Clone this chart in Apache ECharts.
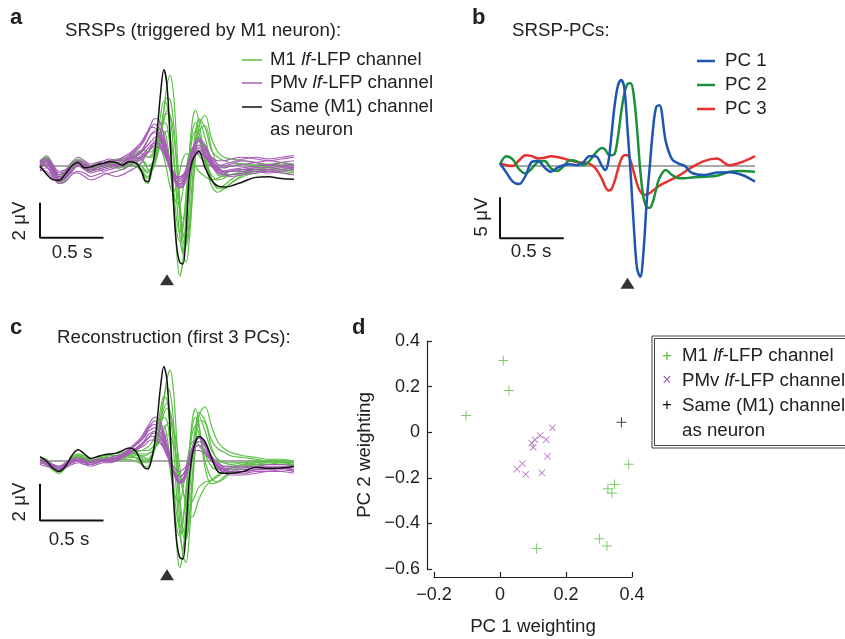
<!DOCTYPE html>
<html>
<head>
<meta charset="utf-8">
<script src="https://cdn.jsdelivr.net/npm/echarts@6/dist/echarts.min.js"></script>
<style>
  html, body { margin: 0; padding: 0; background: #fff; }
  #chart { width: 845px; height: 639px; }
</style>
</head>
<body>
<div id="chart"></div>
<script>
// time axis (s), shared by the waveform panels
var T = [-1, -0.95, -0.9, -0.85, -0.8, -0.75, -0.7, -0.65, -0.6, -0.55, -0.5, -0.45, -0.4, -0.35, -0.3, -0.25,
  -0.2, -0.175, -0.15, -0.125, -0.1, -0.075, -0.05, -0.025, 0, 0.025, 0.05, 0.075, 0.1, 0.125, 0.15, 0.175,
  0.2, 0.225, 0.25, 0.3, 0.35, 0.4, 0.45, 0.5, 0.6, 0.7, 0.8, 0.9, 1.0];

// panel a: SRSPs (uV)
var blackA = [0.0, -0.45, -0.78, -0.82, -0.45, 0.0, 0.2, -0.1, -0.05, 0.08, 0.15, 0.25, 0.2, 0.05, 0.25, 0.2, -0.3, -0.8, -0.9, -0.3, 0.6, 2.2, 4.2, 5.5, 4.6, 1.5, -2.0, -4.5, -5.5, -5.6, -3.8, -0.6, 0.3, 0.65, 0.85, -0.1, -0.8, -1.15, -1.2, -1.15, -0.9, -0.65, -0.62, -0.72, -0.76];
var greenA = [
  [0.3, 0.5, 0.0, -0.7, -0.5, 0.1, 0.35, 0.1, -0.1, 0.1, 0.2, 0.3, 0.35, 0.3, 0.4, 0.5, 0.4, 0.2, 0.0, 0.1, 0.3, 0.8, 1.8, 3.2, 4.6, 5.2, 4.2, 1.5, -1.8, -3.8, -4.3, -3.2, -0.8, 1.5, 2.7, 2.2, 0.9, 0.5, 0.3, 0.2, 0.1, 0.0, -0.1, 0.0, -0.2],
  [-0.1, 0.4, -0.3, -0.9, -0.6, 0.0, 0.25, -0.1, -0.2, 0.0, 0.1, 0.2, 0.1, 0.0, 0.2, 0.1, -0.4, -0.9, -1.0, -0.5, 0.4, 1.6, 2.9, 3.7, 3.5, 1.8, -1.5, -4.8, -6.3, -5.4, -2.6, 0.6, 2.6, 3.2, 2.6, 0.4, -0.8, -1.2, -1.1, -0.8, -0.4, -0.3, -0.2, -0.3, -0.4],
  [0.2, 0.6, 0.1, -0.8, -0.7, -0.1, 0.3, 0.0, -0.2, 0.0, 0.1, 0.1, 0.2, 0.1, 0.1, 0.3, 0.3, 0.1, -0.2, -0.3, 0.0, 0.6, 1.6, 2.6, 3.2, 2.8, 1.0, -1.8, -4.0, -5.0, -4.4, -2.2, 0.3, 2.0, 2.6, 1.6, 0.2, -0.5, -0.6, -0.5, -0.3, -0.1, 0.0, 0.1, 0.0],
  [-0.2, 0.2, -0.4, -1.0, -0.8, -0.2, 0.2, -0.1, -0.3, -0.1, 0.0, 0.0, -0.1, -0.2, 0.0, 0.0, -0.2, -0.5, -0.6, -0.2, 0.4, 1.2, 2.0, 2.5, 2.3, 1.0, -1.2, -3.0, -3.8, -3.3, -1.8, 0.2, 1.6, 2.0, 1.6, 0.3, -0.5, -0.8, -0.7, -0.5, -0.4, -0.2, -0.3, -0.2, -0.3],
  [0.0, 0.5, -0.1, -0.6, -0.4, 0.0, 0.3, 0.1, -0.1, 0.1, 0.2, 0.1, 0.0, 0.1, 0.3, 0.2, 0.0, -0.3, -0.4, -0.2, 0.2, 0.7, 1.3, 1.8, 2.0, 1.6, 0.5, -1.2, -2.5, -3.0, -2.6, -1.4, 0.0, 1.0, 1.5, 0.6, -0.7, -1.3, -1.3, -1.0, -0.6, -0.4, -0.3, -0.4, -0.5],
  [0.1, 0.3, -0.2, -0.7, -0.6, -0.1, 0.2, 0.0, -0.1, 0.0, 0.0, 0.2, 0.1, 0.0, 0.2, 0.4, 0.5, 0.6, 0.5, 0.6, 0.9, 1.3, 1.5, 1.4, 0.8, -0.3, -1.5, -2.1, -2.2, -1.4, -0.2, 0.7, 1.0, 0.9, 0.6, 0.2, 0.0, -0.1, -0.1, 0.0, 0.1, 0.1, 0.0, 0.2, 0.1],
  [0.3, 0.4, 0.0, -0.5, -0.3, 0.1, 0.4, 0.2, 0.0, 0.2, 0.2, 0.3, 0.4, 0.4, 0.5, 0.6, 0.7, 0.6, 0.5, 0.5, 0.7, 1.2, 2.0, 2.7, 3.0, 2.9, 2.0, 0.2, -2.3, -4.2, -4.6, -3.6, -1.5, 0.8, 2.3, 2.9, 1.6, 0.8, 0.5, 0.4, 0.3, 0.2, 0.1, 0.2, 0.0],
  [-0.1, 0.1, -0.3, -0.8, -0.5, 0.0, 0.1, -0.2, -0.3, -0.2, -0.1, 0.0, 0.2, 0.3, 0.5, 0.7, 0.9, 0.9, 0.8, 0.8, 1.0, 1.1, 1.0, 0.5, -0.3, -1.2, -1.5, -1.1, -0.3, 0.4, 0.7, 0.6, 0.3, 0.0, -0.3, -0.6, -0.8, -0.7, -0.5, -0.3, -0.2, -0.1, -0.2, -0.1, -0.2],
  [0.2, 0.4, -0.2, -0.9, -0.7, -0.2, 0.2, 0.0, -0.2, -0.1, 0.1, 0.2, 0.2, 0.1, 0.2, 0.2, 0.0, -0.2, -0.3, -0.1, 0.3, 1.0, 2.0, 3.2, 3.9, 3.8, 2.6, 0.2, -2.8, -4.9, -5.5, -4.3, -1.8, 0.6, 2.0, 2.3, 1.0, 0.0, -0.4, -0.5, -0.4, -0.2, -0.1, -0.2, -0.3],
  [0.0, 0.3, -0.2, -0.8, -0.6, 0.0, 0.3, 0.0, -0.2, 0.0, 0.1, 0.1, 0.0, -0.1, 0.1, 0.0, -0.3, -0.6, -0.7, -0.3, 0.4, 1.3, 1.9, 2.0, 1.4, 0.0, -2.0, -3.7, -4.3, -3.6, -1.6, 0.6, 2.0, 2.5, 2.0, 0.2, -1.1, -1.5, -1.3, -1.0, -0.5, -0.3, -0.2, -0.3, -0.2]
];
var purpleA = [
  [0.2, 0.3, -0.2, -0.5, -0.4, 0.0, 0.3, 0.1, -0.1, 0.1, 0.2, 0.3, 0.3, 0.4, 0.6, 0.9, 1.3, 1.6, 2.0, 2.4, 2.7, 2.7, 2.4, 1.8, 1.0, 0.2, -0.5, -1.0, -1.2, -1.1, -0.6, 0.2, 0.9, 1.4, 1.6, 1.2, 0.5, 0.1, 0.0, 0.1, 0.3, 0.2, 0.0, 0.2, 0.3],
  [0.0, 0.1, -0.4, -0.8, -0.7, -0.3, 0.0, -0.2, -0.4, -0.3, -0.2, -0.1, 0.0, 0.2, 0.4, 0.6, 0.9, 1.2, 1.5, 1.8, 2.0, 2.0, 1.8, 1.3, 0.7, 0.0, -0.5, -0.9, -1.0, -0.9, -0.4, 0.2, 0.8, 1.1, 1.2, 0.8, 0.2, -0.2, -0.3, -0.3, -0.2, -0.2, -0.3, -0.2, -0.1],
  [-0.3, -0.1, -0.6, -1.0, -0.9, -0.5, -0.3, -0.4, -0.6, -0.5, -0.4, -0.5, -0.6, -0.5, -0.3, -0.1, 0.2, 0.5, 0.8, 1.1, 1.4, 1.5, 1.4, 1.0, 0.4, -0.2, -0.7, -1.1, -1.25, -1.2, -0.8, -0.2, 0.4, 0.8, 0.9, 0.6, 0.0, -0.4, -0.5, -0.5, -0.4, -0.3, -0.4, -0.3, -0.2],
  [0.3, 0.5, 0.1, -0.3, -0.2, 0.2, 0.5, 0.3, 0.1, 0.2, 0.3, 0.4, 0.3, 0.3, 0.4, 0.6, 0.8, 1.0, 1.2, 1.4, 1.6, 1.7, 1.6, 1.2, 0.7, 0.1, -0.3, -0.6, -0.7, -0.6, -0.3, 0.2, 0.7, 1.0, 1.1, 0.9, 0.5, 0.3, 0.3, 0.4, 0.5, 0.4, 0.3, 0.4, 0.5],
  [-0.1, 0.2, -0.3, -0.7, -0.5, -0.2, 0.1, -0.1, -0.3, -0.2, -0.1, 0.0, 0.1, 0.2, 0.5, 0.8, 1.2, 1.5, 1.9, 2.2, 2.4, 2.3, 2.0, 1.5, 0.8, 0.1, -0.5, -0.9, -1.1, -1.0, -0.6, 0.0, 0.7, 1.2, 1.4, 1.1, 0.4, -0.1, -0.3, -0.2, -0.1, 0.0, 0.1, 0.0, -0.1],
  [0.1, 0.0, -0.5, -0.8, -0.6, -0.2, 0.1, 0.0, -0.2, -0.1, 0.0, 0.1, 0.1, 0.1, 0.2, 0.3, 0.5, 0.7, 0.8, 1.0, 1.1, 1.1, 1.0, 0.7, 0.3, -0.1, -0.4, -0.6, -0.6, -0.5, -0.2, 0.2, 0.5, 0.7, 0.7, 0.5, 0.1, -0.2, -0.3, -0.3, -0.2, -0.1, -0.1, 0.0, 0.1],
  [0.2, 0.4, 0.0, -0.4, -0.3, 0.0, 0.3, 0.2, 0.0, 0.0, 0.1, 0.2, 0.3, 0.5, 0.7, 1.0, 1.4, 1.7, 2.0, 2.2, 2.2, 2.0, 1.6, 1.0, 0.4, -0.2, -0.6, -0.9, -0.9, -0.7, -0.2, 0.4, 1.0, 1.4, 1.5, 1.0, 0.3, 0.0, 0.1, 0.2, 0.4, 0.5, 0.4, 0.5, 0.6],
  [-0.2, -0.3, -0.7, -0.9, -0.7, -0.4, -0.4, -0.6, -0.8, -0.7, -0.5, -0.4, -0.3, -0.2, 0.0, 0.2, 0.4, 0.6, 0.8, 1.0, 1.2, 1.3, 1.2, 0.9, 0.5, 0.0, -0.4, -0.7, -0.8, -0.8, -0.5, 0.0, 0.5, 0.9, 1.0, 0.7, 0.1, -0.3, -0.5, -0.6, -0.5, -0.4, -0.3, -0.4, -0.5],
  [0.0, 0.3, -0.1, -0.5, -0.4, 0.0, 0.2, 0.0, -0.1, 0.1, 0.2, 0.1, 0.0, 0.1, 0.3, 0.5, 0.8, 1.1, 1.5, 1.8, 1.9, 1.8, 1.5, 1.0, 0.4, -0.2, -0.7, -1.0, -1.1, -0.9, -0.4, 0.3, 0.9, 1.3, 1.4, 1.0, 0.3, -0.1, -0.1, 0.0, 0.1, 0.2, 0.3, 0.2, 0.0],
  [0.1, 0.2, -0.2, -0.6, -0.6, -0.3, 0.0, -0.1, -0.2, -0.2, -0.3, -0.2, -0.1, 0.0, 0.2, 0.4, 0.6, 0.8, 1.0, 1.2, 1.3, 1.3, 1.1, 0.8, 0.3, -0.2, -0.5, -0.7, -0.7, -0.6, -0.3, 0.1, 0.5, 0.8, 0.8, 0.5, 0.0, -0.3, -0.4, -0.3, -0.3, -0.2, -0.2, -0.1, -0.1]
];

// panel b: SRSP principal components (uV)
var pc1 = [0.3, -0.8, -1.9, -2.2, -1.2, 0.5, 0.6, -0.2, -0.7, -0.2, 0.1, 0.2, 0.1, 0.4, 1.2, 1.2, 0.0, -0.5, 0.5, 3.9, 7.5, 9.8, 10.5, 9.5, 4.5, -1.0, -7.5, -12.5, -13.5, -10.5, -4.5, 0.0, 4.5, 7.2, 7.4, 3.0, 0.8, 0.3, 0.0, -0.8, -1.1, -0.8, -0.75, -1.1, -1.9];
var pc2 = [0.2, 1.2, 0.8, -0.4, -0.9, -0.3, 0.5, 0.6, -0.3, -0.6, 0.0, 0.7, 0.6, 0.1, 0.6, 1.6, 2.2, 2.0, 1.4, 1.3, 1.5, 3.5, 6.5, 8.8, 10.0, 10.1, 8.5, 4.5, -0.5, -3.8, -5.0, -5.1, -4.3, -2.8, -1.5, -0.5, -1.1, -1.5, -1.5, -1.4, -1.3, -1.2, -0.7, -0.6, -0.7];
var pc3 = [0.3, 0.1, 0.0, 0.7, 1.3, 1.2, 0.9, 1.0, 1.2, 1.1, 0.9, 0.7, 0.5, 0.4, 0.3, -0.3, -1.6, -2.5, -3.0, -2.8, -1.8, -0.4, 0.8, 1.3, 1.3, 0.6, -0.8, -2.2, -3.1, -3.5, -3.5, -3.3, -3.0, -2.7, -2.4, -2.0, -1.6, -1.2, -0.7, -0.2, 0.6, 0.9, 0.1, 0.5, 1.2];

// panel c: reconstruction from first 3 PCs (uV)
var blackC = [0.25, 0.0, -0.4, -0.6, -0.3, 0.3, 0.65, 0.4, 0.15, 0.25, 0.35, 0.4, 0.45, 0.6, 0.75, 0.6, -0.1, -0.4, -0.45, 0.0, 0.9, 2.5, 4.3, 5.4, 4.6, 1.6, -2.0, -4.5, -5.5, -5.6, -3.9, -1.0, 0.4, 1.1, 1.4, 1.1, 0.2, -0.6, -0.7, -0.7, -0.6, -0.35, -0.42, -0.4, -0.3];
var greenC = [
  [0.2, 0.1, -0.3, -0.5, -0.2, 0.2, 0.4, 0.2, 0.1, 0.2, 0.3, 0.3, 0.3, 0.4, 0.5, 0.4, 0.2, 0.1, 0.1, 0.3, 0.6, 1.2, 2.2, 3.5, 4.7, 5.2, 4.1, 1.4, -1.8, -3.8, -4.3, -3.2, -0.8, 1.5, 2.8, 2.3, 1.2, 0.7, 0.5, 0.3, 0.2, 0.1, 0.0, 0.0, -0.1],
  [0.0, -0.1, -0.5, -0.7, -0.4, 0.1, 0.3, 0.1, -0.1, 0.0, 0.1, 0.1, 0.1, 0.2, 0.3, 0.2, -0.2, -0.4, -0.4, 0.0, 0.8, 1.9, 3.0, 3.7, 3.5, 1.8, -1.5, -4.7, -6.1, -5.3, -2.7, 0.4, 2.4, 3.0, 2.2, -0.4, -1.3, -1.2, -0.9, -0.6, -0.3, -0.2, -0.1, -0.2, -0.2],
  [0.1, 0.0, -0.4, -0.6, -0.3, 0.1, 0.3, 0.1, 0.0, 0.1, 0.2, 0.2, 0.2, 0.3, 0.4, 0.4, 0.3, 0.2, 0.1, 0.2, 0.6, 1.3, 2.3, 3.0, 3.3, 2.7, 0.9, -1.9, -4.1, -5.0, -4.3, -2.1, 0.4, 2.0, 2.6, 1.7, 0.6, 0.1, -0.1, -0.2, -0.1, 0.0, 0.0, 0.0, -0.1],
  [0.0, -0.2, -0.5, -0.6, -0.3, 0.0, 0.2, 0.0, -0.1, 0.0, 0.0, 0.1, 0.1, 0.1, 0.2, 0.2, 0.0, -0.1, -0.1, 0.2, 0.7, 1.4, 2.1, 2.5, 2.3, 1.0, -1.2, -3.0, -3.8, -3.3, -1.8, 0.2, 1.6, 2.0, 1.6, 0.4, -0.3, -0.5, -0.5, -0.4, -0.3, -0.2, -0.2, -0.2, -0.2],
  [0.1, 0.0, -0.3, -0.5, -0.3, 0.1, 0.3, 0.2, 0.0, 0.1, 0.2, 0.3, 0.3, 0.3, 0.4, 0.4, 0.4, 0.4, 0.4, 0.5, 0.7, 1.0, 1.4, 1.8, 2.1, 2.2, 1.9, 1.0, -0.3, -1.6, -2.6, -3.1, -3.2, -2.8, -2.2, -1.5, -1.1, -0.8, -0.6, -0.4, -0.2, -0.1, 0.0, 0.0, -0.1],
  [0.2, 0.1, -0.2, -0.4, -0.2, 0.2, 0.4, 0.3, 0.1, 0.2, 0.3, 0.4, 0.4, 0.5, 0.6, 0.6, 0.6, 0.6, 0.6, 0.7, 0.9, 1.4, 2.1, 2.7, 3.0, 2.8, 1.8, 0.0, -2.4, -4.2, -4.5, -3.4, -1.2, 1.0, 2.6, 3.1, 2.0, 1.1, 0.7, 0.5, 0.3, 0.2, 0.1, 0.1, 0.0],
  [0.0, -0.1, -0.4, -0.5, -0.3, 0.0, 0.2, 0.1, -0.1, 0.0, 0.1, 0.1, 0.2, 0.3, 0.4, 0.5, 0.6, 0.7, 0.8, 1.0, 1.3, 1.6, 1.6, 1.3, 0.6, -0.5, -1.6, -2.2, -2.3, -1.6, -0.4, 0.6, 1.1, 1.2, 0.9, 0.4, 0.1, 0.0, -0.1, -0.1, -0.1, 0.0, 0.0, -0.1, -0.1],
  [0.1, 0.0, -0.4, -0.6, -0.3, 0.1, 0.3, 0.1, 0.0, 0.1, 0.2, 0.2, 0.2, 0.3, 0.3, 0.2, 0.1, 0.0, 0.0, 0.2, 0.6, 1.4, 2.5, 3.6, 4.2, 3.9, 2.4, -0.4, -3.5, -5.4, -5.8, -4.3, -1.6, 0.9, 2.3, 2.2, 0.8, 0.0, -0.3, -0.3, -0.2, -0.1, -0.1, -0.1, -0.2],
  [-0.1, -0.2, -0.5, -0.6, -0.4, 0.0, 0.2, 0.0, -0.1, 0.0, 0.0, 0.0, 0.0, 0.1, 0.1, 0.0, -0.2, -0.3, -0.3, 0.0, 0.6, 1.3, 1.9, 2.0, 1.4, 0.0, -2.0, -3.7, -4.3, -3.6, -1.6, 0.6, 2.0, 2.5, 2.0, 0.0, -1.0, -1.2, -1.0, -0.7, -0.4, -0.2, -0.2, -0.2, -0.2],
  [0.0, -0.1, -0.3, -0.5, -0.3, 0.0, 0.2, 0.1, 0.0, 0.0, 0.1, 0.2, 0.2, 0.2, 0.3, 0.3, 0.3, 0.3, 0.4, 0.5, 0.7, 0.9, 1.2, 1.4, 1.5, 1.4, 1.0, 0.2, -0.8, -1.7, -2.3, -2.5, -2.3, -1.9, -1.5, -1.2, -1.1, -0.9, -0.6, -0.4, -0.2, -0.1, 0.0, -0.1, -0.1]
];
var purpleC = [
  [0.0, -0.1, -0.3, -0.4, -0.2, 0.1, 0.1, -0.1, -0.1, 0.0, 0.1, 0.1, 0.2, 0.4, 0.7, 1.0, 1.4, 1.7, 2.0, 2.3, 2.5, 2.5, 2.2, 1.7, 1.0, 0.2, -0.5, -1.0, -1.2, -1.2, -0.8, -0.1, 0.7, 1.2, 1.4, 0.9, 0.2, -0.3, -0.5, -0.6, -0.6, -0.5, -0.5, -0.4, -0.5],
  [0.1, -0.1, -0.3, -0.4, -0.2, 0.0, 0.1, 0.0, -0.1, 0.0, 0.0, 0.1, 0.2, 0.3, 0.6, 0.9, 1.2, 1.5, 1.8, 2.0, 2.1, 2.0, 1.8, 1.3, 0.7, 0.0, -0.6, -1.0, -1.2, -1.1, -0.7, 0.0, 0.7, 1.1, 1.3, 0.9, 0.2, -0.3, -0.5, -0.6, -0.6, -0.5, -0.4, -0.4, -0.5],
  [-0.1, -0.2, -0.4, -0.5, -0.3, -0.1, 0.0, -0.1, -0.2, -0.1, 0.0, 0.0, 0.1, 0.3, 0.5, 0.7, 1.0, 1.2, 1.5, 1.6, 1.7, 1.6, 1.4, 1.0, 0.5, -0.1, -0.6, -0.9, -1.1, -1.0, -0.6, 0.0, 0.6, 1.0, 1.1, 0.8, 0.1, -0.3, -0.5, -0.6, -0.6, -0.5, -0.5, -0.4, -0.6],
  [0.0, 0.0, -0.2, -0.3, -0.2, 0.0, 0.1, 0.0, -0.1, 0.0, 0.1, 0.1, 0.2, 0.3, 0.5, 0.7, 0.9, 1.1, 1.3, 1.4, 1.4, 1.3, 1.1, 0.8, 0.4, -0.1, -0.5, -0.8, -0.9, -0.8, -0.5, 0.0, 0.5, 0.8, 0.9, 0.6, 0.1, -0.2, -0.4, -0.4, -0.4, -0.3, -0.3, -0.3, -0.4],
  [0.0, -0.1, -0.3, -0.4, -0.3, -0.1, 0.0, -0.1, -0.2, -0.1, 0.0, 0.0, 0.1, 0.2, 0.4, 0.6, 0.8, 0.9, 1.1, 1.2, 1.2, 1.1, 1.0, 0.7, 0.3, 0.0, -0.3, -0.5, -0.6, -0.5, -0.3, 0.1, 0.4, 0.6, 0.6, 0.4, 0.0, -0.3, -0.4, -0.5, -0.5, -0.4, -0.4, -0.4, -0.5],
  [-0.1, -0.2, -0.4, -0.5, -0.3, 0.0, 0.0, -0.2, -0.2, -0.1, 0.0, 0.0, 0.1, 0.3, 0.6, 0.9, 1.3, 1.6, 1.9, 2.1, 2.3, 2.2, 2.0, 1.5, 0.8, 0.1, -0.6, -1.1, -1.3, -1.2, -0.8, -0.1, 0.6, 1.1, 1.3, 0.9, 0.2, -0.4, -0.7, -0.8, -0.8, -0.7, -0.6, -0.6, -0.7],
  [0.1, 0.0, -0.2, -0.3, -0.1, 0.1, 0.2, 0.1, 0.0, 0.1, 0.1, 0.2, 0.3, 0.4, 0.6, 0.9, 1.2, 1.4, 1.7, 1.8, 1.9, 1.8, 1.6, 1.1, 0.6, 0.0, -0.5, -0.8, -0.9, -0.8, -0.4, 0.2, 0.8, 1.2, 1.3, 1.0, 0.3, -0.1, -0.3, -0.3, -0.3, -0.3, -0.2, -0.2, -0.3],
  [-0.2, -0.3, -0.4, -0.5, -0.4, -0.2, -0.1, -0.2, -0.3, -0.2, -0.1, -0.1, 0.0, 0.2, 0.4, 0.6, 0.9, 1.1, 1.3, 1.5, 1.6, 1.5, 1.3, 0.9, 0.4, -0.2, -0.7, -1.0, -1.2, -1.1, -0.8, -0.2, 0.4, 0.8, 0.9, 0.6, 0.0, -0.4, -0.6, -0.7, -0.7, -0.6, -0.6, -0.5, -0.6]
];

// panel d: PC weightings
var m1X = [0.010, 0.027, -0.103, 0.390, 0.347, 0.327, 0.339, 0.111, 0.301, 0.324];
var m1Y = [0.314, 0.183, 0.073, -0.141, -0.229, -0.248, -0.267, -0.510, -0.467, -0.499];
var pmvX = [0.159, 0.122, 0.106, 0.140, 0.096, 0.101, 0.144, 0.068, 0.051, 0.078, 0.127];
var pmvY = [0.019, -0.015, -0.033, -0.033, -0.048, -0.066, -0.106, -0.138, -0.162, -0.185, -0.178];
var sameX = [0.368];
var sameY = [0.044];

var GREEN = '#5dbf47', PURPLE = '#a65cb6', FONT = '"Liberation Sans", Arial, sans-serif';
var FS = 18.7;
var PLUS = 'path://M9,0H11V9H20V11H11V20H9V11H0V9H9Z';

function zip(xs, ys) { return xs.map(function (x, i) { return [x, ys[i]]; }); }
function trace(g, ys, color, w) {
  return { type: 'line', xAxisIndex: g, yAxisIndex: g, data: zip(T, ys), smooth: 0.35, symbol: 'none',
    lineStyle: { color: color, width: w }, silent: true };
}
function plain(g, pts, color, w) {
  return { type: 'line', xAxisIndex: g, yAxisIndex: g, data: pts, symbol: 'none',
    lineStyle: { color: color, width: w }, silent: true };
}
function marker(g, pt) {
  return { type: 'scatter', xAxisIndex: g, yAxisIndex: g, data: [pt], symbol: 'triangle',
    symbolSize: [14, 11], itemStyle: { color: '#000' }, silent: true };
}

var series = [];
// panel a
series.push(plain(0, [[-1, 0], [1, 0]], '#8c8c8c', 1.5));
greenA.forEach(function (v) { series.push(trace(0, v, GREEN, 1.2)); });
purpleA.forEach(function (v) { series.push(trace(0, v, PURPLE, 1.2)); });
series.push(trace(0, blackA, '#111', 1.5));
series.push(plain(0, [[-1, -2.1], [-1, -4.1], [-0.5, -4.1]], '#111', 2));
series.push(marker(0, [0, -6.5]));
// panel b
series.push(plain(1, [[-1, 0], [1, 0]], '#8c8c8c', 1.5));
series.push(trace(1, pc3, '#e8312f', 2.5));
series.push(trace(1, pc2, '#1a8f3c', 2.5));
series.push(trace(1, pc1, '#1f57b0', 2.5));
series.push(plain(1, [[-1, -3.8], [-1, -8.8], [-0.5, -8.8]], '#111', 2));
series.push(marker(1, [0, -14.3]));
// panel c
series.push(plain(2, [[-1, 0], [1, 0]], '#8c8c8c', 1.5));
greenC.forEach(function (v) { series.push(trace(2, v, GREEN, 1.2)); });
purpleC.forEach(function (v) { series.push(trace(2, v, PURPLE, 1.2)); });
series.push(trace(2, blackC, '#111', 1.5));
series.push(plain(2, [[-1, -1.3], [-1, -3.4], [-0.5, -3.4]], '#111', 2));
series.push(marker(2, [0, -6.5]));
// panel d
series.push({ type: 'scatter', xAxisIndex: 3, yAxisIndex: 3, data: zip(m1X, m1Y), symbol: PLUS, symbolSize: 10, itemStyle: { color: GREEN } });
series.push({ type: 'scatter', xAxisIndex: 3, yAxisIndex: 3, data: zip(pmvX, pmvY), symbol: PLUS, symbolRotate: 45, symbolSize: 9, itemStyle: { color: PURPLE } });
series.push({ type: 'scatter', xAxisIndex: 3, yAxisIndex: 3, data: zip(sameX, sameY), symbol: PLUS, symbolSize: 10, itemStyle: { color: '#111' } });

function tick(v) {
  if (Math.abs(v) < 1e-9) return '0';
  return (v < 0 ? '\u2212' : '') + Math.abs(v).toFixed(1);
}
var hid = { show: false };
function hidden(g, lo, hi) { return { gridIndex: g, type: 'value', min: lo, max: hi, show: false, splitLine: hid }; }

function txt(x, y, s, o) {
  o = o || {};
  return { type: 'text', x: x, y: y, rotation: o.rot || 0, silent: true,
    style: { text: s, fill: o.color || '#222', font: (o.bold ? 'bold ' : '') + (o.size || FS) + 'px ' + FONT,
      align: o.align || 'left', verticalAlign: 'middle', rich: o.rich } };
}
var richLf = {
  n: { fontSize: FS, fontFamily: FONT, fill: '#222' },
  i: { fontSize: FS, fontFamily: FONT, fontStyle: 'italic', fill: '#222' }
};
function lfText(x, y, pre) {
  return txt(x, y, '{n|' + pre + ' }{i|lf}{n|-LFP channel}', { rich: richLf });
}
function key(x1, x2, y, color, w) {
  return { type: 'line', silent: true, shape: { x1: x1, y1: y, x2: x2, y2: y }, style: { stroke: color, lineWidth: w } };
}

var graphics = [
  txt(10, 18, 'a', { bold: true, size: 22 }),
  txt(65, 31, 'SRSPs (triggered by M1 neuron):'),
  key(242, 262, 60, GREEN, 1.5), lfText(270, 60, 'M1'),
  key(242, 262, 83, PURPLE, 1.5), lfText(270, 83, 'PMv'),
  key(242, 262, 107, '#111', 1.5), txt(270, 107, 'Same (M1) channel'), txt(270, 130, 'as neuron'),
  txt(20, 221, '2 \u03bcV', { rot: Math.PI / 2, align: 'center' }),
  txt(72, 253, '0.5 s', { align: 'center' }),

  txt(472, 18, 'b', { bold: true, size: 22 }),
  txt(512, 31, 'SRSP-PCs:'),
  key(697, 715, 61, '#1f57b0', 2.5), txt(725, 61, 'PC 1'),
  key(697, 715, 85, '#1a8f3c', 2.5), txt(725, 85, 'PC 2'),
  key(697, 715, 109, '#e8312f', 2.5), txt(725, 109, 'PC 3'),
  txt(482, 217, '5 \u03bcV', { rot: Math.PI / 2, align: 'center' }),
  txt(531, 252, '0.5 s', { align: 'center' }),

  txt(10, 328, 'c', { bold: true, size: 22 }),
  txt(57, 338, 'Reconstruction (first 3 PCs):'),
  txt(20, 502, '2 \u03bcV', { rot: Math.PI / 2, align: 'center' }),
  txt(69, 540, '0.5 s', { align: 'center' }),

  txt(352, 328, 'd', { bold: true, size: 22 }),
  { type: 'rect', silent: true, shape: { x: 652, y: 336, width: 260, height: 112 }, style: { fill: '#fff', stroke: '#444', lineWidth: 1 } },
  { type: 'rect', silent: true, shape: { x: 654.5, y: 338.5, width: 255, height: 107 }, style: { fill: 'none', stroke: '#444', lineWidth: 1 } },
  txt(667, 356, '+', { align: 'center', size: 17, color: GREEN }),
  lfText(682, 356, 'M1'),
  txt(667, 381, '\u00d7', { align: 'center', size: 16, color: PURPLE }),
  lfText(682, 381, 'PMv'),
  txt(667, 405, '+', { align: 'center', size: 17, color: '#111' }),
  txt(682, 406, 'Same (M1) channel'),
  txt(682, 431, 'as neuron')
];

var option = {
  animation: false,
  backgroundColor: '#fff',
  grid: [
    { left: 40, top: 43.5, width: 254, height: 245 },
    { left: 500, top: 34.8, width: 255, height: 262.4 },
    { left: 40, top: 338.5, width: 254, height: 245 },
    { left: 434, top: 341, width: 198, height: 228 }
  ],
  xAxis: [
    hidden(0, -1, 1), hidden(1, -1, 1), hidden(2, -1, 1),
    { gridIndex: 3, type: 'value', min: -0.2, max: 0.4, interval: 0.2, offset: 8,
      axisLine: { show: true, onZero: false, lineStyle: { color: '#222', width: 1.2 } },
      axisTick: { inside: true, length: 5, lineStyle: { color: '#222', width: 1.2 } },
      splitLine: hid,
      axisLabel: { fontSize: 18, fontFamily: FONT, color: '#222', margin: 9, formatter: tick },
      name: 'PC 1 weighting', nameLocation: 'middle', nameGap: 40,
      nameTextStyle: { fontSize: FS, fontFamily: FONT, color: '#222' } }
  ],
  yAxis: [
    hidden(0, -7, 7), hidden(1, -16, 16), hidden(2, -7, 7),
    { gridIndex: 3, type: 'value', min: -0.6, max: 0.4, interval: 0.2, offset: 7,
      axisLine: { show: true, onZero: false, lineStyle: { color: '#222', width: 1.2 } },
      axisTick: { inside: true, length: 5, lineStyle: { color: '#222', width: 1.2 } },
      splitLine: hid,
      axisLabel: { fontSize: 18, fontFamily: FONT, color: '#222', margin: 7, formatter: tick },
      name: 'PC 2 weighting', nameLocation: 'middle', nameGap: 53, nameRotate: 90,
      nameTextStyle: { fontSize: FS, fontFamily: FONT, color: '#222' } }
  ],
  series: series,
  graphic: graphics
};

var myChart = echarts.init(document.getElementById('chart'));
myChart.setOption(option);
</script>
</body>
</html>
